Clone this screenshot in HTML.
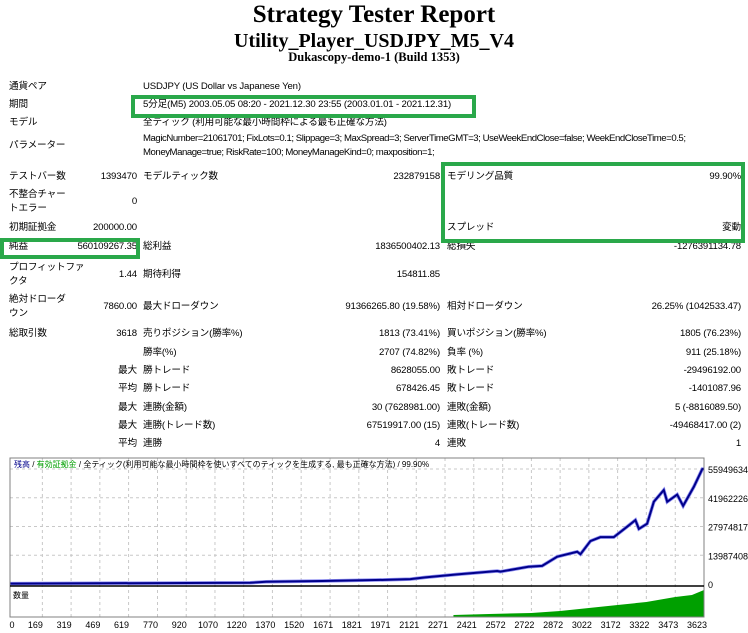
<!DOCTYPE html>
<html><head><meta charset="utf-8">
<style>
body{margin:0;width:748px;height:633px;background:#fff;overflow:hidden;position:relative;font-family:"Liberation Sans","Noto Sans CJK JP",sans-serif;font-size:9.6px;color:#000}
.t{position:absolute;white-space:nowrap;line-height:14px;letter-spacing:-0.15px}
.r{text-align:right}
.h{position:absolute;left:0;width:748px;text-align:center;font-family:"Liberation Serif",serif;font-weight:bold}
.box{position:absolute;border:4px solid #2aa84a;box-sizing:border-box}
</style></head><body>
<div class="h" style="top:0px;font-size:25px;line-height:30px">Strategy Tester Report</div>
<div class="h" style="top:29px;font-size:20px;line-height:24px">Utility_Player_USDJPY_M5_V4</div>
<div class="h" style="top:50px;font-size:12.5px;line-height:14px">Dukascopy-demo-1 (Build 1353)</div>

<div class="t" style="left:9px;top:80px">通貨ペア</div>
<div class="t" style="left:143px;top:80px">USDJPY (US Dollar vs Japanese Yen)</div>
<div class="t" style="left:9px;top:98px">期間</div>
<div class="t" style="left:143px;top:98px">5分足(M5) 2003.05.05 08:20 - 2021.12.30 23:55 (2003.01.01 - 2021.12.31)</div>
<div class="t" style="left:9px;top:116px">モデル</div>
<div class="t" style="left:143px;top:116px">全ティック (利用可能な最小時間枠による最も正確な方法)</div>
<div class="t" style="left:9px;top:139px">パラメーター</div>
<div class="t" style="left:143px;top:132px;letter-spacing:-0.45px">MagicNumber=21061701; FixLots=0.1; Slippage=3; MaxSpread=3; ServerTimeGMT=3; UseWeekEndClose=false; WeekEndCloseTime=0.5;<br>MoneyManage=true; RiskRate=100; MoneyManageKind=0; maxposition=1;</div>

<div class="t" style="left:9px;top:170px">テストバー数</div>
<div class="t r" style="right:611px;top:170px">1393470</div>
<div class="t" style="left:143px;top:170px">モデルティック数</div>
<div class="t r" style="right:308px;top:170px">232879158</div>
<div class="t" style="left:447px;top:170px">モデリング品質</div>
<div class="t r" style="right:7px;top:170px">99.90%</div>
<div class="t" style="left:9px;top:188px">不整合チャー<br>トエラー</div>
<div class="t r" style="right:611px;top:195px">0</div>
<div class="t" style="left:9px;top:221px">初期証拠金</div>
<div class="t r" style="right:611px;top:221px">200000.00</div>
<div class="t" style="left:447px;top:221px">スプレッド</div>
<div class="t r" style="right:7px;top:221px">変動</div>

<div class="t" style="left:9px;top:240px">純益</div>
<div class="t r" style="right:611px;top:240px">560109267.35</div>
<div class="t" style="left:143px;top:240px">総利益</div>
<div class="t r" style="right:308px;top:240px">1836500402.13</div>
<div class="t" style="left:447px;top:240px">総損失</div>
<div class="t r" style="right:7px;top:240px">-1276391134.78</div>

<div class="t" style="left:9px;top:261px">プロフィットファ<br>クタ</div>
<div class="t r" style="right:611px;top:268px">1.44</div>
<div class="t" style="left:143px;top:268px">期待利得</div>
<div class="t r" style="right:308px;top:268px">154811.85</div>

<div class="t" style="left:9px;top:293px">絶対ドローダ<br>ウン</div>
<div class="t r" style="right:611px;top:300px">7860.00</div>
<div class="t" style="left:143px;top:300px">最大ドローダウン</div>
<div class="t r" style="right:308px;top:300px">91366265.80 (19.58%)</div>
<div class="t" style="left:447px;top:300px">相対ドローダウン</div>
<div class="t r" style="right:7px;top:300px">26.25% (1042533.47)</div>

<div class="t" style="left:9px;top:327px">総取引数</div>
<div class="t r" style="right:611px;top:327px">3618</div>
<div class="t" style="left:143px;top:327px">売りポジション(勝率%)</div>
<div class="t r" style="right:308px;top:327px">1813 (73.41%)</div>
<div class="t" style="left:447px;top:327px">買いポジション(勝率%)</div>
<div class="t r" style="right:7px;top:327px">1805 (76.23%)</div>

<div class="t" style="left:143px;top:346px">勝率(%)</div>
<div class="t r" style="right:308px;top:346px">2707 (74.82%)</div>
<div class="t" style="left:447px;top:346px">負率 (%)</div>
<div class="t r" style="right:7px;top:346px">911 (25.18%)</div>

<div class="t r" style="right:611px;top:364px">最大</div>
<div class="t" style="left:143px;top:364px">勝トレード</div>
<div class="t r" style="right:308px;top:364px">8628055.00</div>
<div class="t" style="left:447px;top:364px">敗トレード</div>
<div class="t r" style="right:7px;top:364px">-29496192.00</div>

<div class="t r" style="right:611px;top:382px">平均</div>
<div class="t" style="left:143px;top:382px">勝トレード</div>
<div class="t r" style="right:308px;top:382px">678426.45</div>
<div class="t" style="left:447px;top:382px">敗トレード</div>
<div class="t r" style="right:7px;top:382px">-1401087.96</div>

<div class="t r" style="right:611px;top:401px">最大</div>
<div class="t" style="left:143px;top:401px">連勝(金額)</div>
<div class="t r" style="right:308px;top:401px">30 (7628981.00)</div>
<div class="t" style="left:447px;top:401px">連敗(金額)</div>
<div class="t r" style="right:7px;top:401px">5 (-8816089.50)</div>

<div class="t r" style="right:611px;top:419px">最大</div>
<div class="t" style="left:143px;top:419px">連勝(トレード数)</div>
<div class="t r" style="right:308px;top:419px">67519917.00 (15)</div>
<div class="t" style="left:447px;top:419px">連敗(トレード数)</div>
<div class="t r" style="right:7px;top:419px">-49468417.00 (2)</div>

<div class="t r" style="right:611px;top:437px">平均</div>
<div class="t" style="left:143px;top:437px">連勝</div>
<div class="t r" style="right:308px;top:437px">4</div>
<div class="t" style="left:447px;top:437px">連敗</div>
<div class="t r" style="right:7px;top:437px">1</div>

<div class="box" style="left:131px;top:95px;width:345px;height:23px"></div>
<div class="box" style="left:441px;top:162px;width:304px;height:81px"></div>
<div class="box" style="left:0px;top:238px;width:140px;height:21px"></div>

<svg id="chart" width="748" height="633" style="position:absolute;left:0;top:0" xmlns="http://www.w3.org/2000/svg"></svg>
<script>
const balTrades=[0,1254,1337,1630,1954,2090,2168,2335,2544,2560,2706,2778,2857,2961,2978,3030,3082,3152,3222,3265,3283,3326,3361,3413,3431,3483,3514,3570,3614,3623];
const balValues=[0.2,0.6,1.1,1.45,2.0,2.4,3.2,4.7,6.3,6.0,8.4,8.8,13.3,15.7,14.5,20.9,22.8,22.8,27.9,31.1,26.8,29.3,40.0,45.7,40.0,43.5,38.0,47.3,55.9,55.95];
const volTrades=[2315,2500,2722,2872,3022,3172,3322,3473,3560,3623];
const volValues=[2,3,4,6,9,12,15,20,22,27];
const yTicks=[0,13987408,27974817,41962226,55949634];
const xTicks=[0,169,319,469,619,770,920,1070,1220,1370,1520,1671,1821,1971,2121,2271,2421,2572,2722,2872,3022,3172,3322,3473,3623];

const svg=document.getElementById('chart');
const NS='http://www.w3.org/2000/svg';
const L=10,R=704,T=458,B=584,VB=617;
const xMax=3623,yMax=55949634;
const X=t=>L+t/xMax*(R-L);
const Y=m=>B-(m*1e6)/yMax*(B-469);
const YV=v=>VB-v;
function mk(tag,attrs){const e=document.createElementNS(NS,tag);for(const k in attrs)e.setAttribute(k,attrs[k]);svg.appendChild(e);return e;}

xTicks.forEach((t,i)=>{
  if(i>0&&i<xTicks.length-1){
    const g=mk('line',{x1:X(t),x2:X(t),y1:T,y2:VB,stroke:'#c8c8c8','stroke-dasharray':'3,3'});
    
    
  }
  const tx=mk('text',{x:X(t)-(i===0?-2:7),y:628,'font-size':'9','text-anchor':'middle','font-family':'Liberation Sans, sans-serif'});
  tx.textContent=t;
  
  
});
yTicks.forEach((v,i)=>{
  const y=B-v/yMax*(B-469);
  if(i>0){
    const g=mk('line',{x1:L,x2:R,y1:y,y2:y,stroke:'#c8c8c8','stroke-dasharray':'3,3'});
    
    
  }
  const tx=mk('text',{x:708,y:y+4,'font-size':'9','font-family':'Liberation Sans, sans-serif'});
  tx.textContent=v;
  
  
});
let vd='M'+X(volTrades[0])+','+VB;
volTrades.forEach((t,i)=>{vd+=' L'+X(t)+','+YV(volValues[i]);});
vd+=' L'+X(volTrades[volTrades.length-1])+','+VB+' Z';
const va=mk('path',{d:vd,fill:'#00a000'});


const pts=balTrades.map((t,i)=>X(t)+','+Y(balValues[i])).join(' ');
const halo=mk('polyline',{points:pts,fill:'none',stroke:'#8c8cf0','stroke-width':'3.5'});


const bl=mk('polyline',{points:pts,fill:'none',stroke:'#00008b','stroke-width':'2'});


const f1=mk('rect',{x:L,y:T,width:R-L,height:VB-T,fill:'none',stroke:'#808080','stroke-width':'1'});


const dv=mk('line',{x1:L,x2:R,y1:586,y2:586,stroke:'#000','stroke-width':'1.5'});


const hd=mk('text',{x:14,y:467,'font-size':'8','font-family':'Liberation Sans, Noto Sans CJK JP, sans-serif'});


hd.innerHTML='<tspan fill="#00008b">残高</tspan><tspan fill="#000"> / </tspan><tspan fill="#00a000">有効証拠金</tspan><tspan fill="#000"> / 全ティック(利用可能な最小時間枠を使いすべてのティックを生成する, 最も正確な方法) / 99.90%</tspan>';
const vl=mk('text',{x:13,y:598,'font-size':'8','font-family':'Liberation Sans, Noto Sans CJK JP, sans-serif'});
vl.textContent='数量';


</script>
</body></html>
